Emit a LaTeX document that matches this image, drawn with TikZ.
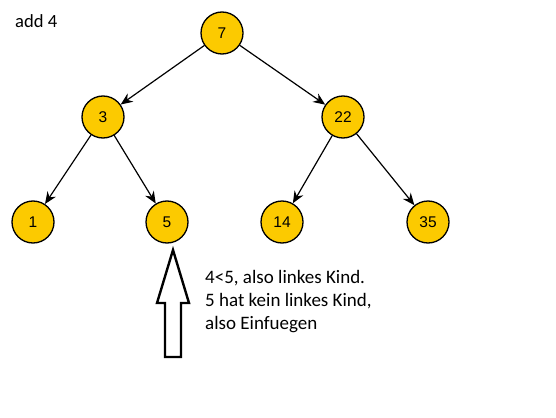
\documentclass[tikz,border=0pt]{standalone}
\usepackage{fontspec}
\setmainfont{Carlito}
\newfontfamily\keyfont{Liberation Sans}
\usepackage{tikz}
\usetikzlibrary{arrows.meta}
\tikzset{
	>={Stealth[length=12pt, width=10pt]},
	key/.style={circle, draw=black, line width=1.3pt, fill=keyYellow, minimum size=42pt, inner sep=0pt, font=\keyfont\fontsize{15.5}{18}\selectfont},
	edge/.style={black, line width=1.2pt, ->},
	hollowarrow/.style={draw=black, line width=2.4pt, fill=white, line join=miter},
	remark/.style={font=\fontsize{19}{23}\selectfont, align=left, inner sep=0pt},
}

\begin{document}
\begin{tikzpicture}[x=1pt, y=-1pt, line cap=round, line join=round]
		
		% ---- Colors ----
		\definecolor{keyYellow}{RGB}{252,202,0}
		
		\useasboundingbox (0,0) rectangle (556,417);
		
		% ---- Title ----
		\node[anchor=west, inner sep=0pt, font=\fontsize{18.6}{22}\selectfont] (title) at (15,21) {add 4};
		
		% ---- Tree nodes ----
		\node[key] (k7)  at (222,33)  {7};
		\node[key] (k3)  at (103,117) {3};
		\node[key] (k22) at (343,117) {22};
		\node[key] (k1)  at (33,222)  {1};
		\node[key] (k5)  at (167,222) {5};
		\node[key] (k14) at (282,222) {14};
		\node[key] (k35) at (428,222) {35};
		
		% ---- Edges ----
		\draw[edge] (k7) -- (k3);
		\draw[edge] (k7) -- (k22);
		\draw[edge] (k3) -- (k1);
		\draw[edge] (k3) -- (k5);
		\draw[edge] (k22) -- (k14);
		\draw[edge] (k22) -- (k35);
		
		% ---- Big hollow arrow pointing at 5 ----
		\coordinate (tip) at (173,250);
		\draw[hollowarrow] (tip) -- (189,303) -- (181,303) -- (181,357)
			-- (165,357) -- (165,303) -- (157,303) -- cycle;
		
		% ---- Remark ----
		\node[remark, anchor=north west] (note) at (205,270)
			{4<5, also linkes Kind.\\5 hat kein linkes Kind,\\also Einfuegen};
		
	\end{tikzpicture}
\end{document}
